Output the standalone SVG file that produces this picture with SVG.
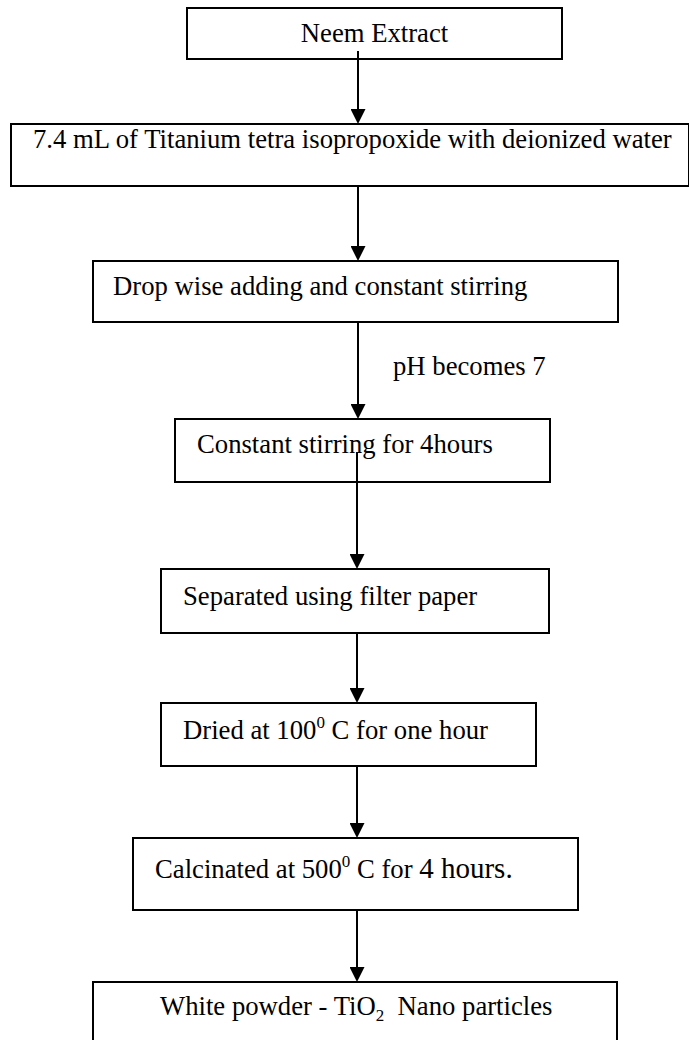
<svg xmlns="http://www.w3.org/2000/svg" width="689" height="1040" viewBox="0 0 689 1040">
<style>
.box{fill:#fff;stroke:#000;stroke-width:2}
.t{font-family:"Liberation Serif","Times New Roman",serif;font-size:26.7px;fill:#000}
.big{font-size:29px}
.conn line{stroke:#000;stroke-width:2}
</style>
<defs>
<marker id="ah" markerWidth="15" markerHeight="15" refX="7.5" refY="7.5" orient="auto" markerUnits="userSpaceOnUse" viewBox="0 0 15 15">
<path d="M0,0 L15,7.5 L0,15 z" fill="#000"/>
</marker>
</defs>
<rect width="689" height="1040" fill="#fff"/>
<g id="n1"><rect class="box" x="187" y="8" width="375" height="51"/><text class="t" x="374.5" y="42" text-anchor="middle">Neem Extract</text></g>
<g id="n2"><rect class="box" x="11" y="124" width="678" height="62"/><text class="t" x="33" y="148">7.4 mL of Titanium tetra isopropoxide with deionized water</text></g>
<g id="n3"><rect class="box" x="93" y="261" width="525" height="61"/><text class="t" x="113" y="295">Drop wise adding and constant stirring</text></g>
<g id="n4"><rect class="box" x="175" y="419" width="375" height="63"/><text class="t" x="197" y="453">Constant stirring for 4hours</text></g>
<g id="n5"><rect class="box" x="161" y="569" width="388" height="64"/><text class="t" x="183" y="605">Separated using filter paper</text></g>
<g id="n6"><rect class="box" x="161" y="703" width="375" height="63"/><text class="t" x="183" y="739">Dried at 100<tspan font-size="17" dy="-11">0</tspan><tspan dy="11"> C for one hour</tspan></text></g>
<g id="n7"><rect class="box" x="133" y="838" width="445" height="72"/><text class="t" x="155" y="878">Calcinated at 500<tspan font-size="17" dy="-11">0</tspan><tspan dy="11"> C for </tspan><tspan class="big">4 hours.</tspan></text></g>
<g id="n8"><rect class="box" x="93" y="982" width="524" height="70"/><text class="t" x="160" y="1015">White powder - TiO<tspan font-size="17" dy="6">2</tspan><tspan dy="-6">&#160; Nano particles</tspan></text></g>
<g id="connectors" class="conn">
<line x1="358" y1="51" x2="358" y2="116.5" marker-end="url(#ah)"/>
<line x1="358" y1="186" x2="358" y2="253.5" marker-end="url(#ah)"/>
<line x1="358" y1="322" x2="358" y2="411.5" marker-end="url(#ah)"/>
<line x1="357" y1="452" x2="357" y2="561.5" marker-end="url(#ah)"/>
<line x1="357" y1="633" x2="357" y2="695.5" marker-end="url(#ah)"/>
<line x1="357" y1="766" x2="357" y2="830.5" marker-end="url(#ah)"/>
<line x1="357" y1="910" x2="357" y2="974.5" marker-end="url(#ah)"/>
</g>
<text class="t" x="393" y="375">pH becomes 7</text>
</svg>
